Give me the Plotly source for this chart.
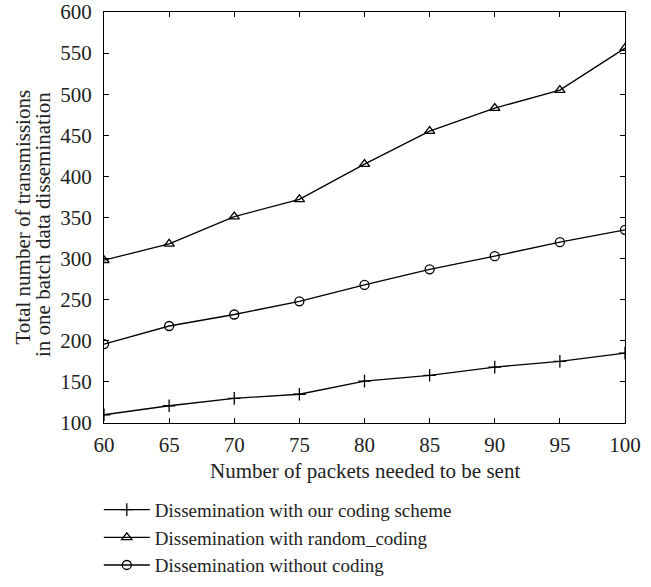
import plotly.graph_objects as go

packets = [60, 65, 70, 75, 80, 85, 90, 95, 100]
our_coding = [110, 121, 130, 135, 151, 158, 168, 175, 185]
random_coding = [298, 318, 351, 372, 415, 455, 483, 505, 556]
without_coding = [196, 218, 232, 248, 268, 287, 303, 320, 335]

names = ["Dissemination with our coding scheme",
         "Dissemination with random_coding",
         "Dissemination without coding"]
x_title = "Number of packets needed to be sent"
y_title_lines = ["Total number of transmissions", "in one batch data dissemination"]

font_family = "Liberation Serif, Times New Roman, serif"
text_color = "#222"

fig = go.Figure()
symbols = ["cross-thin-open", "triangle-up-open", "circle-open"]
for name, vals, sym in zip(names, [our_coding, random_coding, without_coding], symbols):
    fig.add_trace(go.Scatter(x=packets, y=vals, name=name, mode="lines+markers",
                             line=dict(color="black", width=1.3),
                             marker=dict(symbol=sym, size=9, color="black",
                                         line=dict(width=1.3, color="black"))))

axis_common = dict(showgrid=False, zeroline=False, showline=True, linecolor="black",
                   linewidth=1.3, mirror="ticks", ticks="inside", ticklen=5,
                   tickcolor="black", tickwidth=1.3,
                   tickfont=dict(family=font_family, size=21, color=text_color))

fig.update_layout(
    width=651, height=587,
    margin=dict(l=104, r=26, t=12, b=164, autoexpand=False),
    paper_bgcolor="white", plot_bgcolor="white",
    font=dict(family=font_family, color=text_color),
    xaxis=dict(range=[60, 100], tickvals=packets, ticklabelstandoff=3, **axis_common),
    yaxis=dict(range=[100, 600], dtick=50, ticklabelstandoff=7, **axis_common),
    showlegend=True,
    legend=dict(x=-0.01, y=0.164, xanchor="left", yanchor="top", yref="container",
                font=dict(family=font_family, size=19, color=text_color),
                bgcolor="rgba(0,0,0,0)", tracegroupgap=0, itemwidth=46),
)

fig.add_annotation(text=x_title, xref="paper", yref="paper", x=0.5, y=-0.117,
                   xanchor="center", yanchor="middle", showarrow=False,
                   font=dict(family=font_family, size=21, color=text_color))
for line, ypos, xs in zip(y_title_lines, [0.5, 0.483], [-82, -60.5]):
    fig.add_annotation(text=line, xref="paper", yref="paper", x=0, y=ypos,
                       xanchor="center", yanchor="middle", xshift=xs, textangle=-90,
                       showarrow=False,
                       font=dict(family=font_family, size=21, color=text_color))

fig.write_html("out.html")
